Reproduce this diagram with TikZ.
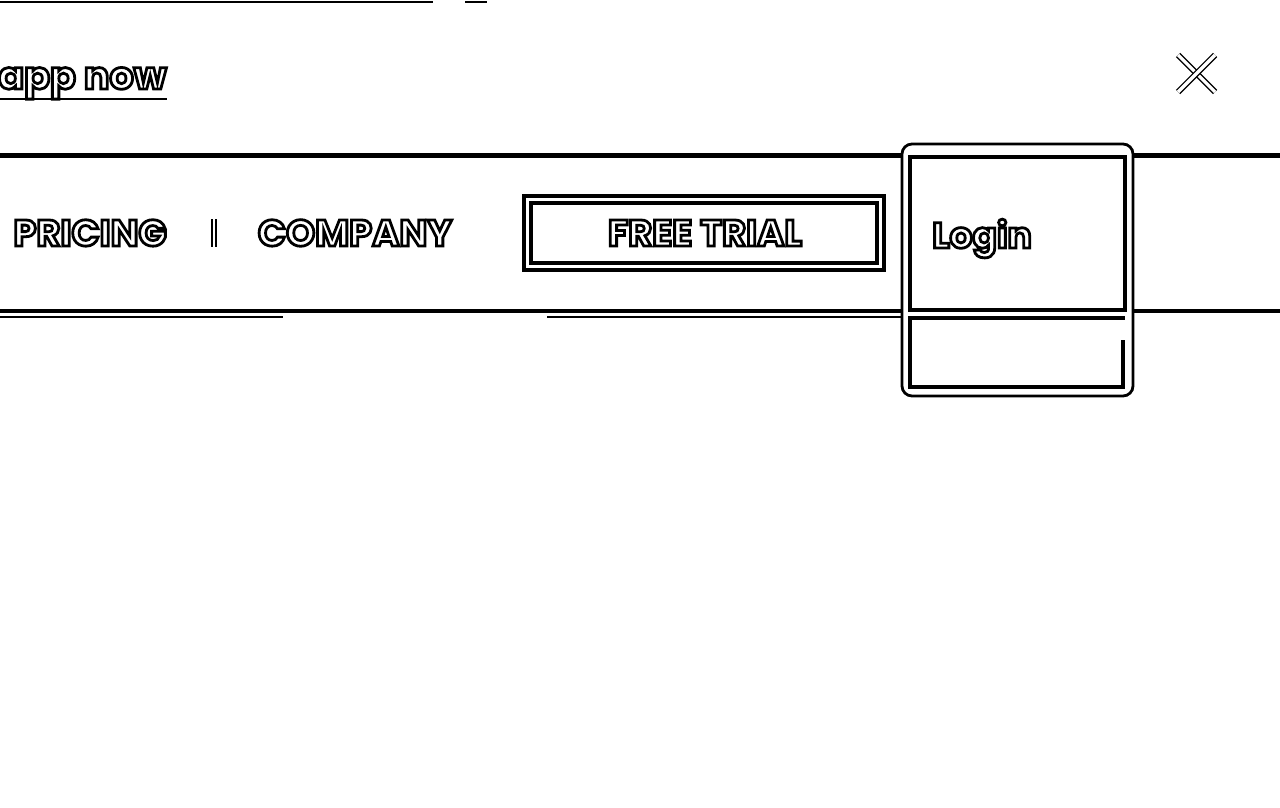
\documentclass[tikz,border=0pt]{standalone}
\usepackage{fontspec}
\newfontfamily\navfont{Poppins}
\usetikzlibrary{positioning,calc}
\tikzset{
	navtext/.style={inner sep=0pt, font=\navfont\bfseries\fontsize{18.5}{18.5}\selectfont},
	barline/.style={line width=2.4pt},
	thinbar/.style={line width=0.9pt},
	boxline/.style={line width=1.6pt},
	outlined/.style={line width=0.7pt, double=white, double distance=1.6pt}
}
% hollow letters: stroke only
\newcommand{\outtxt}[1]{\special{pdf:literal direct 1 Tr 1.4 w}#1\special{pdf:literal direct 0 Tr}}

\begin{document}
\begin{tikzpicture}[x=0.5pt, y=-0.5pt]
	\useasboundingbox (0,0) rectangle (1280,808);
	\fill[white] (0,0) rectangle (1280,808);

	% top strip
	\draw[thinbar] (0,2) -- (433,2);
	\draw[thinbar] (465,2) -- (487,2);
	\node[navtext, anchor=base east, font=\navfont\bfseries\fontsize{19}{19}\selectfont] (app) at (167,89) {\outtxt{app now}};
	\draw[line width=1pt] (0,99) -- (167,99);

	% close button
	\coordinate (xa) at (1178,55);
	\coordinate (xb) at (1215,92);
	\coordinate (xc) at (1215,55);
	\coordinate (xd) at (1178,92);
	\draw[outlined] (xa) -- (xb);
	\draw[outlined] (xc) -- (xd);

	% navigation bar
	\draw[barline] (0,155.5) -- (901,155.5);
	\draw[barline] (1134,155.5) -- (1280,155.5);
	\draw[barline] (0,311) -- (901,311);
	\draw[barline] (1134,311) -- (1280,311);
	\draw[thinbar] (0,317) -- (283,317);
	\draw[thinbar] (547,317) -- (901,317);

	\node[navtext, anchor=base] (pricing) at (90,246) {\outtxt{PRICING}};
	\coordinate (sepa) at (214,219);
	\coordinate (sepb) at (214,247);
	\draw[line width=1pt, double=white, double distance=1.4pt] (sepa) -- (sepb);
	\node[navtext, anchor=base] (company) at (355,246) {\outtxt{COMPANY}};

	% free trial button
	\draw[boxline] (524,196) rectangle (884,270);
	\draw[boxline] (531,203) rectangle (877,263);
	\node[navtext, anchor=base] (trial) at (705,246) {\outtxt{FREE TRIAL}};

	% login box
	\draw[line width=1.4pt, rounded corners=5pt] (902,144) rectangle (1133,396);
	\draw[boxline] (910,157) rectangle (1125,310);
	\draw[boxline] (1123,340) -- (1123,387) -- (910,387) -- (910,318) -- (1125,318);
	\node[navtext, anchor=base west, font=\navfont\bfseries\fontsize{18}{18}\selectfont] (login) at (932,248) {\outtxt{Login}};
\end{tikzpicture}
\end{document}
